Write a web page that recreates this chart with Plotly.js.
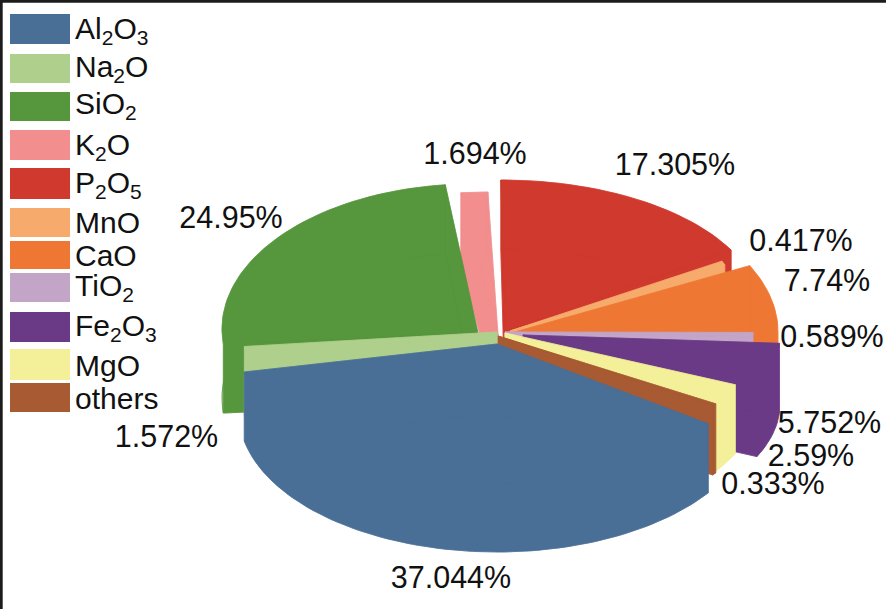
<!DOCTYPE html>
<html><head><meta charset="utf-8">
<script src="https://cdn.plot.ly/plotly-3.0.1.min.js"></script>
<style>html,body{margin:0;padding:0;background:#fff}#c{width:896px;height:609px}</style>
</head><body><div id="c"></div>
<script>
var names=["Al<sub>2</sub>O<sub>3</sub>","Na<sub>2</sub>O","SiO<sub>2</sub>","K<sub>2</sub>O","P<sub>2</sub>O<sub>5</sub>","MnO","CaO","TiO<sub>2</sub>","Fe<sub>2</sub>O<sub>3</sub>","MgO","others"];
var values=[37.044,1.572,24.95,1.694,17.305,0.417,7.74,0.589,5.752,2.59,0.333];
var colors=["#4A6F97","#AFD08C","#56963C","#F28E8E","#D0392E","#F6AB6C","#EE7733","#C3A5C8","#6B3A86","#F4F09A","#A85A32"];
var startPercent=34.73; // Al2O3 begins here, clockwise from the top
var depth=69;
// per slice: apex x,y ; rim ellipse centre x,y ; rim radii x,y
var apexX=[497,497,478,498,505,510,515,505,523,505,498];
var apexY=[344,332,333,335,332,331,332,332,335,333,336];
var rimCX=[497,497,472,488,501,505,503,505,523,505,498];
var rimCY=[344,332,329,333,311,331,332,329,335,333,336];
var rimRX=[258,254,250,254,260,245,275,248,257,253,262];
var rimRY=[139,140,145,141,131,150,150,120,127,125,122];
var drawOrder=[3,2,4,5,6,7,8,9,10,1,0];
var labelText=["37.044%","1.572%","24.95%","1.694%","17.305%","0.417%","7.74%","0.589%","5.752%","2.59%","0.333%"];
var labelX=[451,166.5,231,475,675,801,827,832,829.5,811,773];
var labelY=[580,439,220,156,167,243,283,339,425,458,486];
var swatchTop=[14,54,92,130,168,208,241,273,312,349,383];
var swatchBottom=[44,83,121,160,199,237,269,302,342,380,412];
var legendTextY=[30,68,105,146,184,222,255,287,327,365,398];

function area(p){var a=0;for(var i=0;i<p.length;i++){var q=p[(i+1)%p.length];a+=p[i][0]*q[1]-q[0]*p[i][1];}return a;}
function push(xs,ys,p){if(area(p)<0)p=p.slice().reverse();p.forEach(function(v){xs.push(v[0]);ys.push(v[1]);});xs.push(p[0][0]);ys.push(p[0][1]);xs.push(null);ys.push(null);}
function down(p){return [p[0],p[1]+depth];}

var cum=[],acc=startPercent;
values.forEach(function(v){cum.push(acc);acc+=v;});
var traces=[];
drawOrder.forEach(function(i){
  var a0=cum[i]*3.6*Math.PI/180,a1=(cum[i]+values[i])*3.6*Math.PI/180;
  var n=Math.max(4,Math.ceil((a1-a0)/0.02)),rim=[];
  for(var k=0;k<=n;k++){var t=a0+(a1-a0)*k/n;rim.push([rimCX[i]+rimRX[i]*Math.sin(t),rimCY[i]-rimRY[i]*Math.cos(t)]);}
  var A=[apexX[i],apexY[i]],top=[A].concat(rim),xs=[],ys=[];
  push(xs,ys,top);
  push(xs,ys,top.map(down));
  push(xs,ys,[A,rim[0],down(rim[0]),down(A)]);
  push(xs,ys,[A,rim[n],down(rim[n]),down(A)]);
  push(xs,ys,rim.concat(rim.map(down).reverse()));
  traces.push({type:"scatter",mode:"lines",x:xs,y:ys,fill:"toself",fillcolor:colors[i],line:{color:colors[i],width:0.6},hoverinfo:"skip",showlegend:false,connectgaps:false});
});
traces.push({type:"scatter",mode:"text",x:labelX,y:labelY,text:labelText,textposition:"middle center",textfont:{family:"Liberation Sans",size:30.5,color:"#111"},hoverinfo:"skip",showlegend:false,cliponaxis:false});

var shapes=[],ann=[];
names.forEach(function(nm,i){
  shapes.push({type:"rect",xref:"x",yref:"y",x0:10,x1:70,y0:swatchTop[i],y1:swatchBottom[i],fillcolor:colors[i],line:{width:0},layer:"above"});
  ann.push({xref:"x",yref:"y",x:73,y:legendTextY[i],text:nm,showarrow:false,xanchor:"left",yanchor:"middle",font:{family:"Liberation Sans",size:30,color:"#111"}});
});
shapes.push({type:"rect",xref:"x",yref:"y",x0:0,x1:886,y0:0,y1:2.7,fillcolor:"#1c1c1c",line:{width:0}});
shapes.push({type:"rect",xref:"x",yref:"y",x0:0,x1:2.7,y0:0,y1:609,fillcolor:"#1c1c1c",line:{width:0}});

Plotly.newPlot("c",traces,{
  width:896,height:609,margin:{l:0,r:0,t:0,b:0},paper_bgcolor:"#fff",plot_bgcolor:"#fff",showlegend:false,
  xaxis:{range:[0,896],visible:false,fixedrange:true},
  yaxis:{range:[609,0],visible:false,fixedrange:true},
  shapes:shapes,annotations:ann
},{displayModeBar:false,staticPlot:true});
</script></body></html>
